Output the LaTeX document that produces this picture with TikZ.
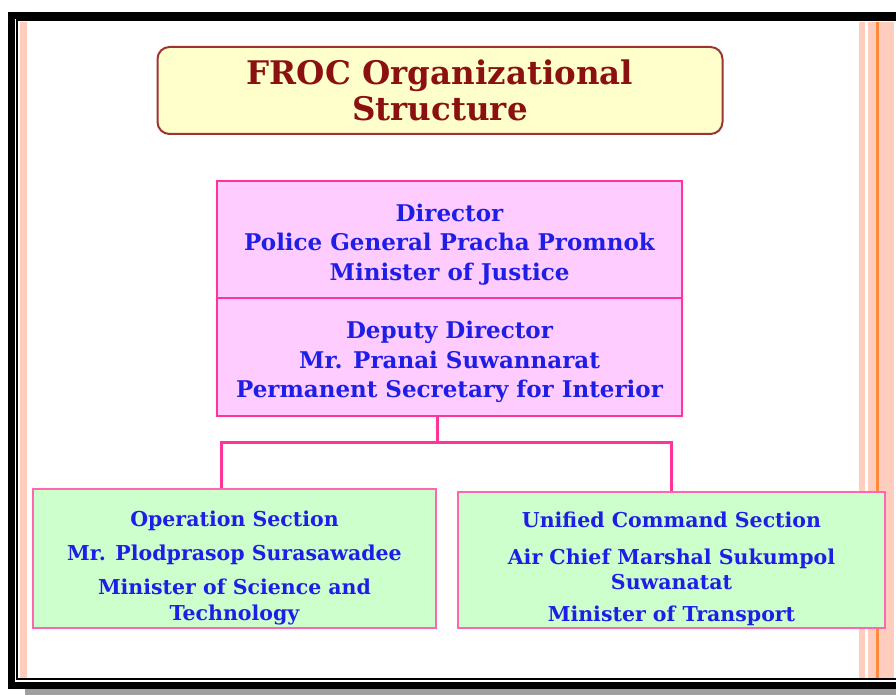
\documentclass[tikz,border=0pt]{standalone}
\usepackage{fontspec}
\setmainfont{DejaVu Serif}
\usetikzlibrary{positioning}
\definecolor{frocred}{HTML}{8B1010}
\definecolor{frocblue}{HTML}{1E1EE6}
\definecolor{pinkline}{HTML}{FF3399}
\definecolor{pinkfill}{HTML}{FFCCFF}
\definecolor{greenfill}{HTML}{CCFFCC}
\definecolor{yellowfill}{HTML}{FFFFCC}
\definecolor{stripe}{HTML}{FFCDBD}
\definecolor{orangeline}{HTML}{FF8A3C}
\tikzset{
	titlebox/.style={draw=frocred!85, line width=2pt, fill=yellowfill, rounded corners=12pt,
		minimum width=565pt, minimum height=87pt, text=frocred, align=center,
		font=\bfseries\fontsize{32.5}{36}\selectfont},
	headbox/.style={draw=pinkline, line width=1.8pt, fill=pinkfill, minimum width=465pt},
	headtext/.style={text=frocblue, align=center, font=\bfseries\fontsize{23}{29.5}\selectfont},
	sectbox/.style={draw=pinkline!75, line width=1.8pt, fill=greenfill},
	secttext/.style={text=frocblue, align=center, font=\bfseries\fontsize{20.5}{25.5}\selectfont},
	conn/.style={draw=pinkline, line width=3pt}
}
\begin{document}
\begin{tikzpicture}[x=1pt, y=-1pt, line join=miter]
	\useasboundingbox (0,0) rectangle (896,695);
	% slide frame
	\fill[gray!75] (25,689) rectangle (900,695);
	\fill[white] (8,12) rectangle (900,689);
	\fill[stripe] (20,22) rectangle (27,678);
	\foreach \a/\b in {859/865,868/877,879/894} {
		\fill[stripe] (\a,22) rectangle (\b,678);}
	\fill[orangeline] (876,22) rectangle (879,678);
	\draw[line width=7pt] (11.5,15.5) rectangle (905,685.5);
	\draw[line width=2pt] (17,20.5) rectangle (900,679);
	% chart
	\node[titlebox] (title) at (440,90.5) {FROC Organizational\\Structure};
	\node[headbox, minimum height=117pt] (dir) at (449.5,239.5) {};
	\node[headtext, yshift=-5pt] (dirtext) at (dir.center)
		{Director\\Police General Pracha Promnok\\Minister of Justice};
	\node[headbox, minimum height=118pt] (dep) at (449.5,357) {};
	\node[headtext, yshift=-5pt] (deptext) at (dep.center)
		{Deputy Director\\Mr. Pranai Suwannarat\\Permanent Secretary for Interior};
	\node[sectbox, minimum width=403pt, minimum height=139pt] (op) at (234.5,558.5) {};
	\node[secttext, yshift=-9.5pt] (optext) at (op.center)
		{Operation Section\\[8pt]Mr. Plodprasop Surasawadee\\[9pt]Minister of Science and\\Technology};
	\node[sectbox, minimum width=427pt, minimum height=136pt] (uc) at (671.5,560) {};
	\node[secttext, yshift=-9pt] (uctext) at (uc.center)
		{Unified Command Section\\[11pt]Air Chief Marshal Sukumpol\\Suwanatat\\[6pt]Minister of Transport};
	\coordinate (fork) at (437,442);
	\draw[conn] (fork |- dep.south) -- (fork);
	\draw[conn] (fork) -| ([xshift=-13.5pt]op.north);
	\draw[conn] (fork) -| (uc.north);
\end{tikzpicture}
\end{document}
